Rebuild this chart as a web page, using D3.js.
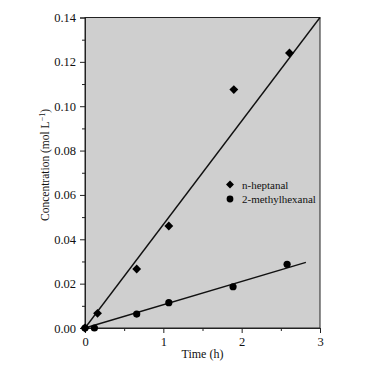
<!DOCTYPE html>
<html><head><meta charset="utf-8">
<script src="https://cdn.jsdelivr.net/npm/d3@7"></script>
<style>body{margin:0;background:#fff}svg{display:block}svg text{font-family:"Liberation Serif","DejaVu Serif",serif}</style>
</head><body>
<script>
const heptanalTime = [0, 0.16, 0.66, 1.07, 1.90, 2.61];
const heptanalConc = [0, 0.0066, 0.0266, 0.046, 0.1075, 0.124];
const methylTime = [0, 0.12, 0.66, 1.07, 1.89, 2.58];
const methylConc = [0, 0, 0.0063, 0.0114, 0.0186, 0.0287];
const heptanalFit = [[0, 0], [3, 0.14]];
const methylFit = [[0, 0], [2.82, 0.0296]];
const xTicks = [0, 1, 2, 3];
const yTicks = [0, 0.02, 0.04, 0.06, 0.08, 0.10, 0.12, 0.14];
const legendLabels = ["n-heptanal", "2-methylhexanal"];

const W = 388, H = 369;
const m = {l: 85, r: 68, t: 17.5, b: 41};
const svg = d3.select("body").append("svg").attr("width", W).attr("height", H);
const x = d3.scaleLinear().domain([0, 3]).range([m.l, W - m.r]);
const y = d3.scaleLinear().domain([0, 0.14]).range([H - m.b, m.t]);

svg.append("rect").attr("x", x(0)).attr("y", y(0.14))
  .attr("width", x(3) - x(0)).attr("height", y(0) - y(0.14))
  .attr("fill", "#cfcfcf").attr("stroke", "#222").attr("stroke-width", 1);

// axes
svg.append("g").attr("transform", `translate(0,${y(0)})`)
  .call(d3.axisBottom(x).tickValues(xTicks).tickFormat(d3.format("d")).tickSize(5).tickPadding(4));
svg.append("g").attr("transform", `translate(0,${y(0)})`)
  .call(d3.axisBottom(x).tickValues([0.5, 1.5, 2.5]).tickFormat("").tickSize(3))
  .select(".domain").remove();
svg.append("g").attr("transform", `translate(${x(0)},0)`)
  .call(d3.axisLeft(y).tickValues(yTicks).tickFormat(d3.format(".2f")).tickSize(5).tickPadding(4));
svg.append("g").attr("transform", `translate(${x(0)},0)`)
  .call(d3.axisLeft(y).tickValues([0.01, 0.03, 0.05, 0.07, 0.09, 0.11, 0.13]).tickFormat("").tickSize(3))
  .select(".domain").remove();
svg.selectAll("g").attr("font-family", null);
svg.selectAll(".tick text").attr("font-size", 12.5).attr("fill", "#111");
svg.selectAll(".domain, .tick line").attr("stroke", "#222");

// fit lines
const line = d3.line().x(d => x(d[0])).y(d => y(d[1]));
[heptanalFit, methylFit].forEach(f => {
  svg.append("path").attr("d", line(f)).attr("fill", "none").attr("stroke", "#111").attr("stroke-width", 1.4);
});

// points
const diamond = d3.symbol().type(d3.symbolDiamond2).size(50);
heptanalTime.forEach((t, i) => {
  svg.append("path").attr("d", diamond()).attr("fill", "#000")
    .attr("transform", `translate(${x(t)},${y(heptanalConc[i])})`);
});
methylTime.forEach((t, i) => {
  svg.append("circle").attr("cx", x(t)).attr("cy", y(methylConc[i])).attr("r", 3.6).attr("fill", "#000");
});

// legend
const lg = svg.append("g");
lg.append("path").attr("d", d3.symbol().type(d3.symbolDiamond2).size(40)()).attr("fill", "#000")
  .attr("transform", `translate(230,184.5)`);
lg.append("circle").attr("cx", 230).attr("cy", 199).attr("r", 3.4).attr("fill", "#000");
legendLabels.forEach((s, i) => {
  lg.append("text").attr("x", 242).attr("y", 188.5 + i * 14.5).text(s)
    .attr("font-size", 11).attr("fill", "#111");
});

// axis titles
svg.append("text").attr("x", (x(0) + x(3)) / 2).attr("y", 358).attr("text-anchor", "middle")
  .attr("font-size", 12).attr("fill", "#111").text("Time (h)");
const yl = svg.append("text").attr("transform", `translate(49,165) rotate(-90)`)
  .attr("text-anchor", "middle").attr("font-size", 11.5).attr("fill", "#111");
yl.append("tspan").text("Concentration (mol L");
yl.append("tspan").attr("dy", -4).attr("font-size", 8).text("−1");
yl.append("tspan").attr("dy", 4).text(")");
</script>
</body></html>
